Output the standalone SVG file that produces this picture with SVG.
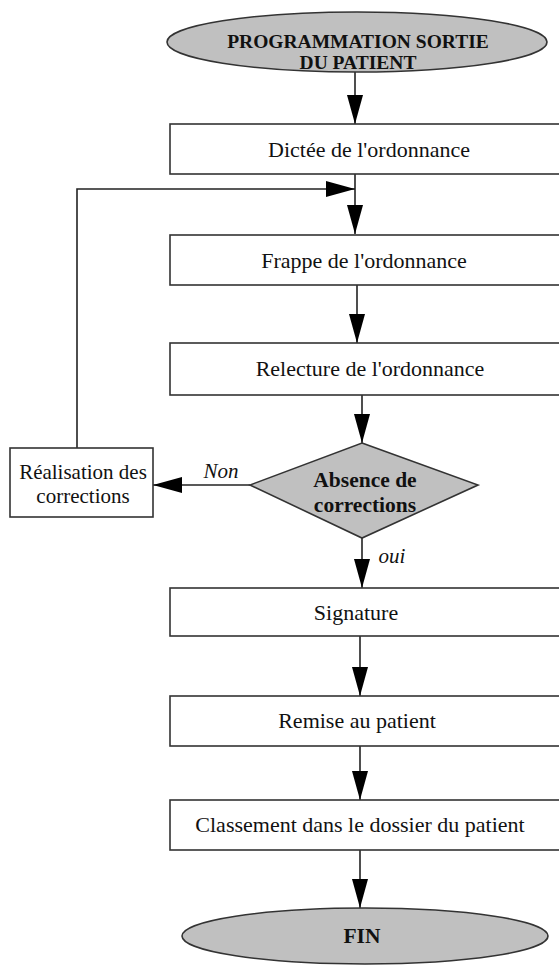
<svg xmlns="http://www.w3.org/2000/svg" width="559" height="965" viewBox="0 0 559 965">
<style>
.n{fill:#fff;stroke:#333;stroke-width:1.6}
.g{fill:#c0c0c0;stroke:#333;stroke-width:1.6}
.t{font-family:"Liberation Serif","Times New Roman",serif;font-size:22px;fill:#111;text-anchor:middle}
.b{font-weight:bold;font-size:21.5px}
.h{font-size:19.5px}
.s{font-size:21px}
.i{font-style:italic;font-size:21px}
.c{fill:none;stroke:#222;stroke-width:1.6}
</style>
<defs>
<marker id="ah" markerUnits="userSpaceOnUse" markerWidth="30" markerHeight="16" refX="29" refY="8" orient="auto">
<path d="M0,0 L29,8 L0,16 z" fill="#000"/>
</marker>
</defs>
<g id="connectors">
<line class="c" x1="355" y1="72" x2="355" y2="124" marker-end="url(#ah)"/>
<line class="c" x1="355" y1="174" x2="355" y2="234" marker-end="url(#ah)"/>
<line class="c" x1="357" y1="285" x2="357" y2="343" marker-end="url(#ah)"/>
<line class="c" x1="362" y1="395" x2="362" y2="443" marker-end="url(#ah)"/>
<line class="c" x1="250" y1="485" x2="153" y2="485" marker-end="url(#ah)"/>
<polyline class="c" points="77,448 77,189 355,189" marker-end="url(#ah)"/>
<line class="c" x1="362" y1="538" x2="362" y2="588" marker-end="url(#ah)"/>
<line class="c" x1="360" y1="636" x2="360" y2="696" marker-end="url(#ah)"/>
<line class="c" x1="360" y1="746" x2="360" y2="800" marker-end="url(#ah)"/>
<line class="c" x1="360" y1="850" x2="360" y2="908" marker-end="url(#ah)"/>
<text class="t i" x="221" y="478">Non</text>
<text class="t i" x="392" y="563">oui</text>
</g>
<g id="start">
<ellipse class="g" cx="357" cy="42" rx="190" ry="30"/>
<text class="t b h" x="358" y="48">PROGRAMMATION SORTIE</text>
<text class="t b h" x="358" y="69">DU PATIENT</text>
</g>
<g id="dictee">
<rect class="n" x="170" y="124" width="400" height="50"/>
<text class="t" x="369" y="157">Dictée de l'ordonnance</text>
</g>
<g id="frappe">
<rect class="n" x="170" y="235" width="400" height="50"/>
<text class="t" x="364" y="268">Frappe de l'ordonnance</text>
</g>
<g id="relecture">
<rect class="n" x="170" y="343" width="400" height="52"/>
<text class="t" x="370" y="376">Relecture de l'ordonnance</text>
</g>
<g id="decision">
<polygon class="g" points="362,443 478,485 362,538 250,485"/>
<text class="t b" x="365" y="487">Absence de</text>
<text class="t b" x="365" y="512">corrections</text>
</g>
<g id="realisation">
<rect class="n" x="10" y="448" width="143" height="69"/>
<text class="t s" x="83" y="479">Réalisation des</text>
<text class="t s" x="83" y="503">corrections</text>
</g>
<g id="signature">
<rect class="n" x="170" y="588" width="400" height="48"/>
<text class="t" x="356" y="620">Signature</text>
</g>
<g id="remise">
<rect class="n" x="170" y="696" width="400" height="50"/>
<text class="t" x="357" y="728">Remise au patient</text>
</g>
<g id="classement">
<rect class="n" x="170" y="800" width="400" height="50"/>
<text class="t" x="360" y="832">Classement dans le dossier du patient</text>
</g>
<g id="fin">
<ellipse class="g" cx="365" cy="936" rx="183" ry="28"/>
<text class="t b" x="362" y="943">FIN</text>
</g>
</svg>
